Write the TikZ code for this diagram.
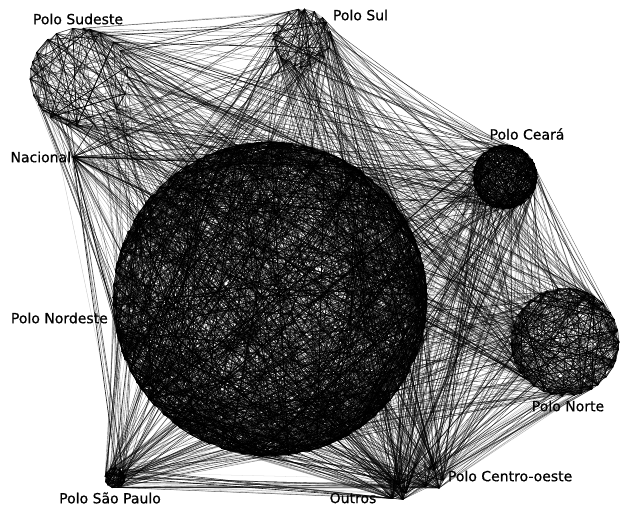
\documentclass[tikz,border=0pt]{standalone}
\usepackage{fontspec}
\setmainfont{DejaVu Sans}[FakeBold=0.7]
\usetikzlibrary{positioning}

\tikzset{
  edge/.style={black, line cap=round},
  polo/.style={font=\fontsize{14}{16}\selectfont, inner sep=0.75pt},
}

% radius and number of members of each pole
\def\rsud{49}  \def\ksud{26}
\def\rsul{29}  \def\ksul{20}
\def\rcea{32}  \def\kcea{36}
\def\rne{157}  \def\kne{90}
\def\rnor{54}  \def\knor{34}
\def\rsp{10}   \def\ksp{14}
\def\rout{8}   \def\kout{4}
\def\rco{10}   \def\kco{4}
\def\rnac{0}   \def\knac{1}

\begin{document}
\begin{tikzpicture}[x=1pt,y=1pt,yscale=-1]
\useasboundingbox (0,0) rectangle (624,506);
\pgfmathsetseed{2011}

% Cluster centres
\coordinate (sud) at (79,77);
\coordinate (sul) at (302,38);
\coordinate (cea) at (505,177);
\coordinate (ne) at (270,299);
\coordinate (nor) at (565,342);
\coordinate (sp) at (115,478);
\coordinate (out) at (398,493);
\coordinate (co) at (433,480);
\coordinate (nac) at (73,157);

% Edges between poles (members sit at golden-angle steps round the pole)
\foreach \p/\q/\n in {sud/ne/130, sud/sul/25, sud/cea/40, sud/nor/40, sud/sp/4, sud/out/12, sud/co/8,
    nac/ne/40, nac/sul/8, nac/cea/10, nac/nor/10, nac/sp/2, nac/out/4, nac/sud/5,
    sul/ne/120, sul/cea/25, sul/nor/35, sul/sp/6, sul/out/20, sul/co/12,
    cea/ne/120, cea/nor/70, cea/sp/10, cea/out/30, cea/co/25,
    ne/nor/150, ne/sp/110, ne/out/120, ne/co/80,
    nor/sp/12, nor/out/40, nor/co/30,
    sp/out/18, sp/co/10, out/co/5}{
  \foreach \i in {1,...,\n}{
    \pgfmathsetmacro\a{mod(137.508*floor(\csname k\p\endcsname*rnd),360)}
    \pgfmathsetmacro\b{mod(137.508*floor(\csname k\q\endcsname*rnd),360)}
    \pgfmathsetmacro\op{0.15+0.75*rnd}
    \pgfmathsetmacro\lw{0.25+0.7*rnd*rnd}
    \draw[edge, draw opacity=\op, line width=\lw pt]
      ([shift={(\a:\csname r\p\endcsname)}]\p) -- ([shift={(\b:\csname r\q\endcsname)}]\q);
  }
}

% Edges inside each pole
\foreach \c/\n/\o in {sud/140/0.3, sul/110/0.3, cea/450/0.6, ne/1500/0.55,
    nor/380/0.4, sp/120/0.7, out/4/0.2, co/4/0.1}{
  \foreach \i in {1,...,\n}{
    \pgfmathsetmacro\a{mod(137.508*floor(\csname k\c\endcsname*rnd),360)}
    \pgfmathsetmacro\b{mod(137.508*floor(\csname k\c\endcsname*rnd),360)}
    \pgfmathsetmacro\op{\o+(1-\o)*rnd}
    \pgfmathsetmacro\lw{0.3+0.8*rnd*rnd}
    \draw[edge, draw opacity=\op, line width=\lw pt]
      ([shift={(\a:\csname r\c\endcsname)}]\c) -- ([shift={(\b:\csname r\c\endcsname)}]\c);
  }
}

% Text Node
\node[polo] (lsud) at (78,19) {Polo Sudeste};
% Text Node
\node[polo, anchor=west] (lsul) at (332,15) {Polo Sul};
% Text Node
\node[polo] (lcea) at (527,134) {Polo Ceará};
% Text Node
\node[polo, anchor=east] (lnac) at (72,157) {Nacional};
% Text Node
\node[polo, anchor=west] (lne) at (10,318) {Polo Nordeste};
% Text Node
\node[polo] (lnor) at (568,406) {Polo Norte};
% Text Node
\node[polo] (lsp) at (110,498) {Polo São Paulo};
% Text Node
\node[polo] (lout) at (353,498) {Outros};
% Text Node
\node[polo, anchor=west] (lco) at (447,476) {Polo Centro-oeste};

\end{tikzpicture}
\end{document}
